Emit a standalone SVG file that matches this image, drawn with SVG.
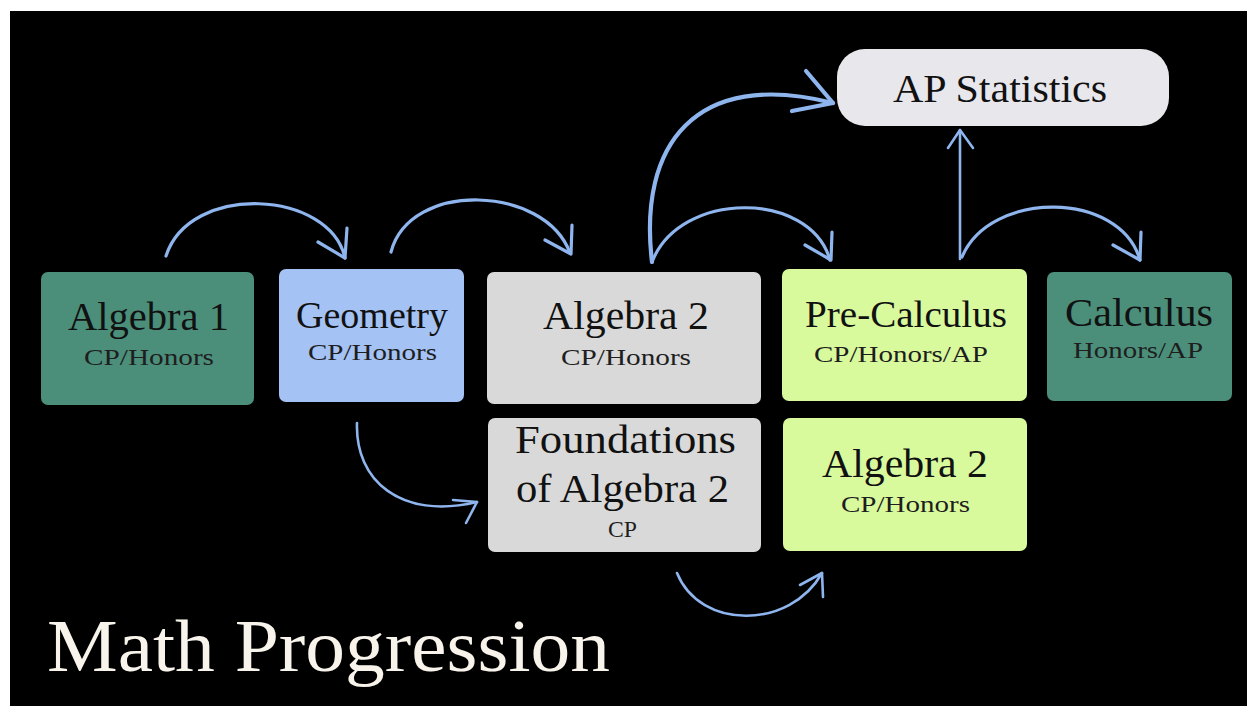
<svg xmlns="http://www.w3.org/2000/svg" width="1247" height="706" viewBox="0 0 1247 706">
<style>
  .bg{fill:#ffffff}
  .title{font-family:"Liberation Serif","DejaVu Serif",serif;font-size:40px;fill:#111111;text-anchor:middle}
  .sub{font-family:"Liberation Serif","DejaVu Serif",serif;font-size:24px;fill:#1e1e1e;text-anchor:middle}
  .teal{fill:#4b8f7b}
  .blue{fill:#a4c2f4}
  .gray{fill:#d9d9d9}
  .lime{fill:#d9f99d}
  .pale{fill:#e8e7ec}
  .arrow{fill:none;stroke:#8fb5ef;stroke-width:3.2;stroke-linecap:round;stroke-linejoin:round}
  .heading{font-family:"Liberation Serif","DejaVu Serif",serif;font-size:74px;fill:#f8f4ec}
</style>
<rect class="bg" x="0" y="0" width="1247" height="706"/>
<rect x="10" y="11" width="1237" height="695" fill="#000000"/>

<g id="connectors">
  <path class="arrow" d="M166,256 C190,182 330,190 345,258"/>
  <polyline class="arrow" points="318,242 345,258 347,228"/>
  <path class="arrow" d="M391,252 C410,180 545,185 570,253"/>
  <polyline class="arrow" points="545,240 571,254 572,225"/>
  <path class="arrow" style="stroke-width:4.2" d="M652,262 C638,145 695,68 833,103"/>
  <polyline class="arrow" style="stroke-width:4.2" points="806,71 833,103 792,111"/>
  <path class="arrow" d="M652,262 C680,190 810,190 830,260"/>
  <polyline class="arrow" points="805,245 831,260 832,232"/>
  <line class="arrow" style="stroke-width:2.6" x1="960" y1="259" x2="960" y2="130"/>
  <polyline class="arrow" style="stroke-width:2.6" points="948,148 960,130 973,148"/>
  <path class="arrow" d="M962,257 C990,190 1120,190 1140,260"/>
  <polyline class="arrow" points="1113,245 1140,260 1141,232"/>
  <path class="arrow" style="stroke-width:2.6" d="M357,423 C355,480 400,520 477,502"/>
  <polyline class="arrow" style="stroke-width:2.6" points="453,500 477,502 466,523"/>
  <path class="arrow" style="stroke-width:2.6" d="M677,573 C700,630 790,630 822,573"/>
  <polyline class="arrow" style="stroke-width:2.6" points="800,585 822,573 823,597"/>
</g>

<g id="algebra1">
  <rect class="teal" x="41" y="272" width="213" height="133" rx="7"/>
  <text class="title" x="148.5" y="330" textLength="161" lengthAdjust="spacingAndGlyphs">Algebra 1</text>
  <text class="sub" x="149" y="365" textLength="130" lengthAdjust="spacingAndGlyphs">CP/Honors</text>
</g>

<g id="geometry">
  <rect class="blue" x="279" y="269" width="185" height="133" rx="7"/>
  <text class="title" style="font-size:38px" x="372" y="328" textLength="152" lengthAdjust="spacingAndGlyphs">Geometry</text>
  <text class="sub" x="372.5" y="360" textLength="129" lengthAdjust="spacingAndGlyphs">CP/Honors</text>
</g>

<g id="algebra2">
  <rect class="gray" x="487" y="272" width="274" height="132" rx="7"/>
  <text class="title" x="626" y="329" textLength="166" lengthAdjust="spacingAndGlyphs">Algebra 2</text>
  <text class="sub" x="626" y="365" textLength="130" lengthAdjust="spacingAndGlyphs">CP/Honors</text>
</g>

<g id="precalculus">
  <rect class="lime" x="782" y="269" width="245" height="132" rx="7"/>
  <text class="title" style="font-size:38px" x="906" y="327" textLength="202" lengthAdjust="spacingAndGlyphs">Pre-Calculus</text>
  <text class="sub" x="901" y="362" textLength="174" lengthAdjust="spacingAndGlyphs">CP/Honors/AP</text>
</g>

<g id="calculus">
  <rect class="teal" x="1047" y="272" width="185" height="129" rx="7"/>
  <text class="title" x="1139" y="326" textLength="148" lengthAdjust="spacingAndGlyphs">Calculus</text>
  <text class="sub" x="1138" y="358" textLength="130" lengthAdjust="spacingAndGlyphs">Honors/AP</text>
</g>

<g id="apstatistics">
  <rect class="pale" x="837" y="49" width="332" height="77" rx="28"/>
  <text class="title" x="1000" y="102" textLength="214" lengthAdjust="spacingAndGlyphs">AP Statistics</text>
</g>

<g id="foundations">
  <rect class="gray" x="488" y="418" width="273" height="134" rx="7"/>
  <text class="title" x="625.5" y="453" textLength="221" lengthAdjust="spacingAndGlyphs">Foundations</text>
  <text class="title" x="622.5" y="502" textLength="213" lengthAdjust="spacingAndGlyphs">of Algebra 2</text>
  <text class="sub" x="622.5" y="537" textLength="29" lengthAdjust="spacingAndGlyphs">CP</text>
</g>

<g id="algebra2cp">
  <rect class="lime" x="783" y="418" width="244" height="133" rx="7"/>
  <text class="title" x="905" y="477" textLength="166" lengthAdjust="spacingAndGlyphs">Algebra 2</text>
  <text class="sub" x="905.5" y="512" textLength="129" lengthAdjust="spacingAndGlyphs">CP/Honors</text>
</g>

<text class="heading" x="47" y="671" textLength="563" lengthAdjust="spacingAndGlyphs">Math Progression</text>
</svg>
